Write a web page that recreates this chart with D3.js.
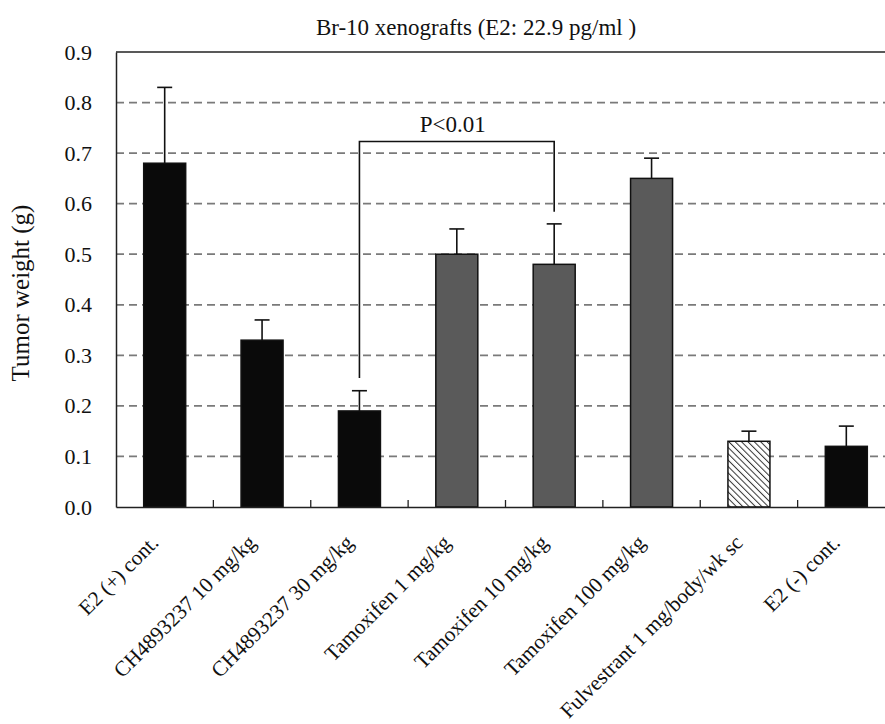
<!DOCTYPE html>
<html><head><meta charset="utf-8">
<script src="https://cdn.jsdelivr.net/npm/d3@7/dist/d3.min.js"></script>
<style>body{margin:0;background:#fff}svg{display:block}text{font-family:"Liberation Serif","Times New Roman",serif;fill:#111}</style>
</head><body>
<svg id="chart" width="885" height="724"></svg>
<script>
const categories = ["E2 (+) cont.","CH4893237 10 mg/kg","CH4893237 30 mg/kg","Tamoxifen 1 mg/kg","Tamoxifen 10 mg/kg","Tamoxifen 100 mg/kg","Fulvestrant 1 mg/body/wk sc","E2 (-) cont."];
const means = [0.68,0.33,0.19,0.50,0.48,0.65,0.13,0.12];
const errTops = [0.83,0.37,0.23,0.55,0.56,0.69,0.15,0.16];
const fills = ["black","black","black","grey","grey","grey","hatch","black"];
const yTicks = [0,0.1,0.2,0.3,0.4,0.5,0.6,0.7,0.8,0.9];
const bracket = {from:2,to:4,y:0.723,leftEnd:0.255,rightEnd:0.584,label:"P<0.01"};
const title = "Br-10 xenografts (E2: 22.9 pg/ml )";
const yLabel = "Tumor weight (g)";

const svg = d3.select("#chart");
const m = {left:116, top:52, right:895, bottom:507};
const x = d3.scaleBand().domain(categories).range([m.left,m.right]).paddingInner(0).paddingOuter(0);
const y = d3.scaleLinear().domain([0,0.9]).range([m.bottom,m.top]);

const defs = svg.append("defs");
const pat = defs.append("pattern").attr("id","hatch").attr("patternUnits","userSpaceOnUse")
  .attr("width",4.5).attr("height",4.5).attr("patternTransform","rotate(-45)");
pat.append("rect").attr("width",4.5).attr("height",4.5).attr("fill","#fff");
pat.append("line").attr("x1",0).attr("y1",0).attr("x2",0).attr("y2",4.5).attr("stroke","#333").attr("stroke-width",2);

// grid
svg.append("g").selectAll("line").data(yTicks.filter(d=>d>0 && d<0.9)).join("line")
  .attr("x1",m.left).attr("x2",m.right).attr("y1",d=>y(d)).attr("y2",d=>y(d))
  .attr("stroke","#7a7a7a").attr("stroke-width",1.8).attr("stroke-dasharray","8,5");

// frame top
svg.append("line").attr("x1",m.left).attr("x2",m.right).attr("y1",y(0.9)).attr("y2",y(0.9)).attr("stroke","#222").attr("stroke-width",1.5);

// y axis
const yAxis = svg.append("g").attr("transform",`translate(${m.left},0)`)
  .call(d3.axisLeft(y).tickValues(yTicks).tickFormat(d3.format(".1f")).tickSize(0).tickPadding(24));
yAxis.select(".domain").attr("stroke","#222").attr("stroke-width",1.5);
yAxis.selectAll("text").attr("font-size",22).attr("font-family","Liberation Serif").attr("fill","#111");

// bars
const fillOf = f => f==="black" ? "#0a0a0a" : f==="grey" ? "#5a5a5a" : "url(#hatch)";
svg.append("g").selectAll("rect").data(categories).join("rect")
  .attr("x",(d,i)=>x(d)+x.bandwidth()/2-21).attr("width",42)
  .attr("y",(d,i)=>y(means[i])).attr("height",(d,i)=>y(0)-y(means[i]))
  .attr("fill",(d,i)=>fillOf(fills[i])).attr("stroke","#111").attr("stroke-width",1.5);

// error bars
const eg = svg.append("g").attr("stroke","#111").attr("stroke-width",1.6);
categories.forEach((c,i)=>{
  const cx = x(c)+x.bandwidth()/2;
  eg.append("line").attr("x1",cx).attr("x2",cx).attr("y1",y(means[i])).attr("y2",y(errTops[i]));
  eg.append("line").attr("x1",cx-7.5).attr("x2",cx+7.5).attr("y1",y(errTops[i])).attr("y2",y(errTops[i]));
});

// x axis
const xAxis = svg.append("g").attr("transform",`translate(0,${m.bottom})`)
  .call(d3.axisBottom(x).tickSize(0).tickFormat(""));
xAxis.select(".domain").attr("stroke","#222").attr("stroke-width",1.5);
// inward ticks at category boundaries
svg.append("g").selectAll("line").data(categories.slice(1)).join("line")
  .attr("x1",d=>x(d)).attr("x2",d=>x(d)).attr("y1",m.bottom).attr("y2",m.bottom-7)
  .attr("stroke","#222").attr("stroke-width",1.3);

// x labels
svg.append("g").selectAll("text").data(categories).join("text")
  .attr("transform",d=>`translate(${x(d)+x.bandwidth()/2-5},${m.bottom+37}) rotate(-45)`)
  .attr("text-anchor","end").attr("font-size",21.3).text(d=>d);

// bracket
const bx1 = x(categories[bracket.from])+x.bandwidth()/2;
const bx2 = x(categories[bracket.to])+x.bandwidth()/2;
svg.append("path").attr("fill","none").attr("stroke","#111").attr("stroke-width",1.6)
  .attr("d",`M${bx1},${y(bracket.leftEnd)}V${y(bracket.y)}H${bx2}V${y(bracket.rightEnd)}`);
svg.append("text").attr("x",(bx1+bx2)/2-4).attr("y",y(bracket.y)-9).attr("text-anchor","middle")
  .attr("font-size",23).text(bracket.label);

// title
svg.append("text").attr("x",476).attr("y",35).attr("text-anchor","middle").attr("font-size",23).text(title);

// y label
svg.append("text").attr("transform",`translate(29,${293}) rotate(-90)`)
  .attr("text-anchor","middle").attr("font-size",25).text(yLabel);
</script>
</body></html>
